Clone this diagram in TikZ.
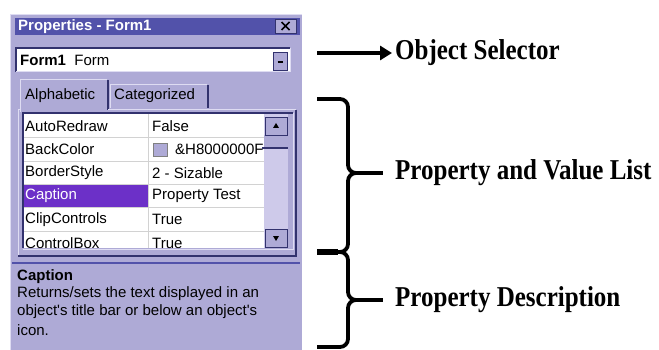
\documentclass[tikz,border=0pt]{standalone}
\usepackage{fontspec}
\usepackage{graphicx}
\setmainfont{Liberation Serif}
\newfontfamily\winfont{Liberation Sans}
\usetikzlibrary{arrows.meta,positioning,calc}

\definecolor{panel}{RGB}{174,170,214}
\definecolor{titlebar}{RGB}{82,82,170}
\definecolor{hilite}{RGB}{108,48,200}
\definecolor{track}{RGB}{206,202,234}
\definecolor{edge}{RGB}{50,50,110}
\definecolor{lite}{RGB}{222,220,242}

\newcommand{\tallbf}[1]{\scalebox{1}[1.15]{#1}}

\begin{document}
\begin{tikzpicture}[x=1pt,y=-1pt,
    win/.style={font=\winfont\fontsize{15}{17}\selectfont,inner sep=0pt,anchor=west},
    note/.style={font=\bfseries\fontsize{25}{28}\selectfont,inner sep=0pt,anchor=west},
    brace/.style={line width=3.8pt},
    btn/.style={fill=panel,draw=edge,line width=0.8pt},
    gridline/.style={draw=gray!35,line width=0.6pt}
  ]
  \useasboundingbox (0,0) rectangle (659,350);

  % window frame
  \fill[panel] (10,14) rectangle (302,350);
  \draw[lite,line width=1pt] (10.5,350) -- (10.5,14.5) -- (301.5,14.5);
  \fill[titlebar] (15,18) rectangle (300,35);
  \node[win,text=white,font=\winfont\bfseries\fontsize{15}{17}\selectfont] (title) at (18,26.5) {Properties - Form1};
  \draw[btn] (275,19) rectangle (296,33);
  \coordinate (close) at (285.5,26);
  \draw[line width=1.6pt] ($(close)+(-4,-4)$) -- ($(close)+(4,4)$) ($(close)+(-4,4)$) -- ($(close)+(4,-4)$);

  % object combo
  \fill[white] (16,48) rectangle (290,72);
  \draw[edge,line width=1.2pt] (16,72) -- (16,48) -- (290,48);
  \draw[lite,line width=1pt] (290,48) -- (290,72) -- (16,72);
  \draw[btn] (273,52) rectangle (287,70);
  \draw[line width=1.4pt] (277.5,62) -- (282.5,62);
  \node[win] (obj) at (20,60) {\bfseries Form1\mdseries\ \ Form};

  % tabs
  \draw[lite,line width=1pt] (20,112) -- (20,80) -- (107,80);
  \draw[edge,line width=1.4pt] (108,80) -- (108,110);
  \draw[lite,line width=1pt] (110,108) -- (110,85) -- (207,85);
  \draw[edge,line width=1.6pt] (208,85) -- (208,108);
  \node[win] (alpha) at (25,96) {Alphabetic};
  \node[win] (categ) at (114,96) {Categorized};
  \draw[lite,line width=1pt] (18,256) -- (18,110) -- (20,110) (108,110) -- (296,110);
  \draw[edge,line width=1.2pt] (296,110) -- (296,256) -- (18,256);

  % property grid
  \fill[white] (23,114) rectangle (264,248);
  \fill[hilite] (24,184) rectangle (148,207);
  \foreach \y in {137,161,184,207,231}
    \draw[gridline] (24,\y) -- (264,\y);
  \draw[gridline] (148,114) -- (148,248);
  \begin{scope}
    \clip (23,114) rectangle (264,248);
    \node[win] (n1) at (25,126) {AutoRedraw};
    \node[win] (n2) at (25,149.5) {BackColor};
    \node[win] (n3) at (25,173) {BorderStyle};
    \node[win,text=white] (n4) at (25,196) {Caption};
    \node[win] (n5) at (25,219.5) {ClipControls};
    \node[win] (n6) at (25,243) {ControlBox};
    \node[win] (v1) at (152,126) {False};
    \draw[fill=panel,draw=gray] (153,143) rectangle (167,156);
    \node[win] (v2) at (175,149.5) {\&H8000000F};
    \node[win] (v3) at (152,173) {2 - Sizable};
    \node[win] (v4) at (152,196) {Property Test};
    \node[win] (v5) at (152,219.5) {True};
    \node[win] (v6) at (152,243) {True};
  \end{scope}
  \fill[track] (264,114) rectangle (288,248);
  \fill[panel] (264,135) rectangle (288,148);
  \draw[edge,line width=1.2pt] (262,148) -- (288,148);
  \draw[btn] (265,117) rectangle (287,135);
  \fill (276,123) -- (279,128) -- (273,128) -- cycle;
  \draw[btn] (265,229) rectangle (287,247);
  \fill (276,241) -- (279,236) -- (273,236) -- cycle;
  \draw[edge,line width=1.2pt] (23,248) -- (23,113) -- (293,113);
  \draw[lite,line width=1pt] (293,113) -- (293,249) -- (23,249);

  % description
  \draw[titlebar,line width=1.2pt] (12,263) -- (300,263);
  \node[win,font=\winfont\bfseries\fontsize{15}{17}\selectfont] (capt) at (17,277) {Caption};
  \node[win] (d1) at (17,294) {Returns/sets the text displayed in an};
  \node[win] (d2) at (17,312) {object's title bar or below an object's};
  \node[win] (d3) at (17,330) {icon.};

  % callouts
  \node[note] (sel) at (395,53) {\tallbf{Object Selector}};
  \node[note] (list) at (395,173) {\tallbf{Property and Value List}};
  \node[note] (desc) at (395,300) {\tallbf{Property Description}};

  \coordinate (selfrom) at (317,53);
  \draw[line width=4.5pt,-{Triangle[length=12pt,width=14pt]},shorten >=3pt] (selfrom) -- (sel.west);

  \coordinate (top) at (317,99);
  \coordinate (mid) at (317,252);
  \coordinate (bot) at (317,347);
  \coordinate (tip1) at (356,173);
  \coordinate (tip2) at (356,300);
  \draw[brace] (top) -- (340,99) to[out=0,in=90] (348,107) -- (348,165)
    to[out=-90,in=180] (tip1) to[out=180,in=90] (348,181) -- (348,244)
    to[out=-90,in=0] (340,252) -- (mid);
  \draw[brace] (mid) -- (340,252) to[out=0,in=90] (348,260) -- (348,292)
    to[out=-90,in=180] (tip2) to[out=180,in=90] (348,308) -- (348,339)
    to[out=-90,in=0] (340,347) -- (bot);
  \draw[line width=6pt] (mid) -- (338,252);
  \draw[brace,shorten >=12pt] (tip1) -- (list.west);
  \draw[brace,shorten >=12pt] (tip2) -- (desc.west);
\end{tikzpicture}
\end{document}
